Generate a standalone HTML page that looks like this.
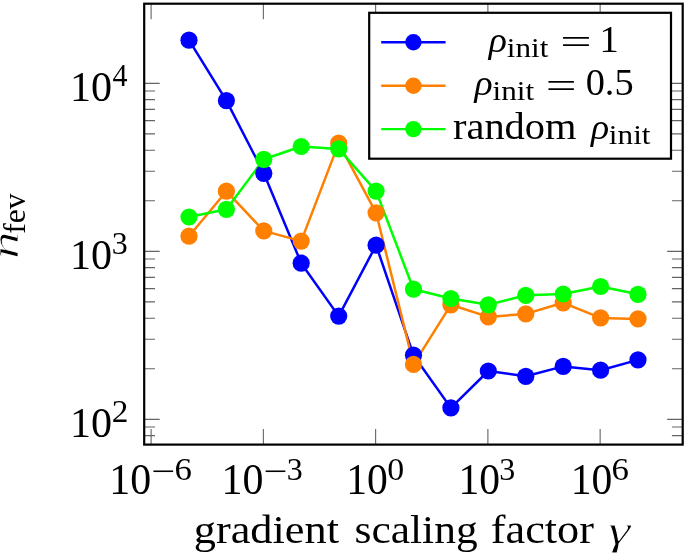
<!DOCTYPE html>
<html><head><meta charset="utf-8"><title>plot</title>
<style>html,body{margin:0;padding:0;background:#fff}svg{display:block}text{font-family:"Liberation Serif",serif;fill:#000}</style></head><body>
<svg width="685" height="553" viewBox="0 0 685 553">
<rect width="685" height="553" fill="#fff"/>
<g stroke="#646464" stroke-width="1.1" fill="none">
<path d="M144.2 435.63h10.8M682.7 435.63h-10.8"/>
<path d="M144.2 427.04h10.8M682.7 427.04h-10.8"/>
<path d="M144.2 368.78h10.8M682.7 368.78h-10.8"/>
<path d="M144.2 339.19h10.8M682.7 339.19h-10.8"/>
<path d="M144.2 318.20h10.8M682.7 318.20h-10.8"/>
<path d="M144.2 301.92h10.8M682.7 301.92h-10.8"/>
<path d="M144.2 288.62h10.8M682.7 288.62h-10.8"/>
<path d="M144.2 277.37h10.8M682.7 277.37h-10.8"/>
<path d="M144.2 267.63h10.8M682.7 267.63h-10.8"/>
<path d="M144.2 259.04h10.8M682.7 259.04h-10.8"/>
<path d="M144.2 200.78h10.8M682.7 200.78h-10.8"/>
<path d="M144.2 171.19h10.8M682.7 171.19h-10.8"/>
<path d="M144.2 150.20h10.8M682.7 150.20h-10.8"/>
<path d="M144.2 133.92h10.8M682.7 133.92h-10.8"/>
<path d="M144.2 120.62h10.8M682.7 120.62h-10.8"/>
<path d="M144.2 109.37h10.8M682.7 109.37h-10.8"/>
<path d="M144.2 99.63h10.8M682.7 99.63h-10.8"/>
<path d="M144.2 91.04h10.8M682.7 91.04h-10.8"/>
</g>
<g stroke="#646464" stroke-width="1.1" fill="none">
<path d="M144.2 419.35h15.5M682.7 419.35h-15.5"/>
<path d="M144.2 251.35h15.5M682.7 251.35h-15.5"/>
<path d="M144.2 83.35h15.5M682.7 83.35h-15.5"/>
<path d="M151.10 3.7v15.5M151.10 444.6v-15.5"/>
<path d="M263.36 3.7v15.5M263.36 444.6v-15.5"/>
<path d="M375.62 3.7v15.5M375.62 444.6v-15.5"/>
<path d="M487.88 3.7v15.5M487.88 444.6v-15.5"/>
<path d="M600.14 3.7v15.5M600.14 444.6v-15.5"/>
</g>
<rect x="144.2" y="3.7" width="538.5" height="440.9" fill="none" stroke="#000" stroke-width="2.2"/>
<polyline points="189.0,40.2 226.4,100.6 263.8,173.3 301.2,263.2 338.7,316.1 376.1,245.2 413.5,355.2 450.9,407.9 488.3,371.0 525.8,376.3 563.2,366.4 600.6,370.2 638.0,359.9" fill="none" stroke="#0000ff" stroke-width="2.5" stroke-linejoin="round"/>
<polyline points="189.0,236.2 226.4,191.2 263.8,230.9 301.2,241.1 338.7,143.1 376.1,212.8 413.5,364.4 450.9,304.8 488.3,316.9 525.8,313.9 563.2,302.8 600.6,317.9 638.0,318.9" fill="none" stroke="#ff8000" stroke-width="2.5" stroke-linejoin="round"/>
<polyline points="189.0,217.0 226.4,209.3 263.8,159.3 301.2,146.5 338.7,148.9 376.1,191.1 413.5,289.2 450.9,298.5 488.3,304.8 525.8,295.3 563.2,294.0 600.6,286.5 638.0,294.3" fill="none" stroke="#00ff00" stroke-width="2.5" stroke-linejoin="round"/>
<g fill="#0000ff" stroke="none">
<circle cx="189.0" cy="40.2" r="8.6"/>
<circle cx="226.4" cy="100.6" r="8.6"/>
<circle cx="263.8" cy="173.3" r="8.6"/>
<circle cx="301.2" cy="263.2" r="8.6"/>
<circle cx="338.7" cy="316.1" r="8.6"/>
<circle cx="376.1" cy="245.2" r="8.6"/>
<circle cx="413.5" cy="355.2" r="8.6"/>
<circle cx="450.9" cy="407.9" r="8.6"/>
<circle cx="488.3" cy="371.0" r="8.6"/>
<circle cx="525.8" cy="376.3" r="8.6"/>
<circle cx="563.2" cy="366.4" r="8.6"/>
<circle cx="600.6" cy="370.2" r="8.6"/>
<circle cx="638.0" cy="359.9" r="8.6"/>
</g>
<g fill="#ff8000" stroke="none">
<circle cx="189.0" cy="236.2" r="8.6"/>
<circle cx="226.4" cy="191.2" r="8.6"/>
<circle cx="263.8" cy="230.9" r="8.6"/>
<circle cx="301.2" cy="241.1" r="8.6"/>
<circle cx="338.7" cy="143.1" r="8.6"/>
<circle cx="376.1" cy="212.8" r="8.6"/>
<circle cx="413.5" cy="364.4" r="8.6"/>
<circle cx="450.9" cy="304.8" r="8.6"/>
<circle cx="488.3" cy="316.9" r="8.6"/>
<circle cx="525.8" cy="313.9" r="8.6"/>
<circle cx="563.2" cy="302.8" r="8.6"/>
<circle cx="600.6" cy="317.9" r="8.6"/>
<circle cx="638.0" cy="318.9" r="8.6"/>
</g>
<g fill="#00ff00" stroke="none">
<circle cx="189.0" cy="217.0" r="8.6"/>
<circle cx="226.4" cy="209.3" r="8.6"/>
<circle cx="263.8" cy="159.3" r="8.6"/>
<circle cx="301.2" cy="146.5" r="8.6"/>
<circle cx="338.7" cy="148.9" r="8.6"/>
<circle cx="376.1" cy="191.1" r="8.6"/>
<circle cx="413.5" cy="289.2" r="8.6"/>
<circle cx="450.9" cy="298.5" r="8.6"/>
<circle cx="488.3" cy="304.8" r="8.6"/>
<circle cx="525.8" cy="295.3" r="8.6"/>
<circle cx="563.2" cy="294.0" r="8.6"/>
<circle cx="600.6" cy="286.5" r="8.6"/>
<circle cx="638.0" cy="294.3" r="8.6"/>
</g>
<rect x="369.2" y="12.8" width="301.8" height="145.9" fill="#fff" stroke="#000" stroke-width="2.2"/>
<path d="M381.2 42.3H445.6" stroke="#0000ff" stroke-width="2.4"/><circle cx="413.4" cy="42.3" r="8.2" fill="#0000ff"/>
<path d="M381.2 85.7H445.6" stroke="#ff8000" stroke-width="2.4"/><circle cx="413.4" cy="85.7" r="8.2" fill="#ff8000"/>
<path d="M381.2 129.1H445.6" stroke="#00ff00" stroke-width="2.4"/><circle cx="413.4" cy="129.1" r="8.2" fill="#00ff00"/>
<text><tspan x="70.02" y="100.57" font-size="42.96" textLength="42.06" lengthAdjust="spacingAndGlyphs">10</tspan><tspan x="112.60" y="86.10" font-size="32.09" textLength="15.05" lengthAdjust="spacingAndGlyphs">4</tspan></text>
<text><tspan x="70.02" y="268.57" font-size="42.96" textLength="42.06" lengthAdjust="spacingAndGlyphs">10</tspan><tspan x="111.68" y="254.08" font-size="31.82" textLength="16.00" lengthAdjust="spacingAndGlyphs">3</tspan></text>
<text><tspan x="70.02" y="436.57" font-size="42.96" textLength="42.06" lengthAdjust="spacingAndGlyphs">10</tspan><tspan x="111.70" y="422.10" font-size="31.85" textLength="16.62" lengthAdjust="spacingAndGlyphs">2</tspan></text>
<text><tspan x="109.23" y="494.06" font-size="43.56" textLength="41.94" lengthAdjust="spacingAndGlyphs">10</tspan><tspan x="151.08" y="481.54" font-size="32.00" textLength="23.89" lengthAdjust="spacingAndGlyphs">−</tspan><tspan x="174.62" y="479.68" font-size="31.82" textLength="17.43" lengthAdjust="spacingAndGlyphs">6</tspan></text>
<text><tspan x="221.49" y="494.06" font-size="43.56" textLength="41.94" lengthAdjust="spacingAndGlyphs">10</tspan><tspan x="263.34" y="481.54" font-size="32.00" textLength="23.89" lengthAdjust="spacingAndGlyphs">−</tspan><tspan x="286.84" y="479.68" font-size="31.82" textLength="16.00" lengthAdjust="spacingAndGlyphs">3</tspan></text>
<text><tspan x="346.26" y="494.06" font-size="43.56" textLength="41.60" lengthAdjust="spacingAndGlyphs">10</tspan><tspan x="387.23" y="479.68" font-size="31.70" textLength="16.94" lengthAdjust="spacingAndGlyphs">0</tspan></text>
<text><tspan x="458.52" y="494.06" font-size="43.56" textLength="41.60" lengthAdjust="spacingAndGlyphs">10</tspan><tspan x="499.24" y="479.68" font-size="31.82" textLength="16.00" lengthAdjust="spacingAndGlyphs">3</tspan></text>
<text><tspan x="570.78" y="494.06" font-size="43.56" textLength="41.60" lengthAdjust="spacingAndGlyphs">10</tspan><tspan x="611.54" y="479.68" font-size="31.82" textLength="17.43" lengthAdjust="spacingAndGlyphs">6</tspan></text>
<text><tspan x="193.72" y="543.30" font-size="40.58" textLength="145.27" lengthAdjust="spacingAndGlyphs">gradient</tspan> <tspan x="354.56" y="543.30" font-size="40.58" textLength="123.11" lengthAdjust="spacingAndGlyphs">scaling</tspan> <tspan x="490.77" y="543.30" font-size="40.00" textLength="103.13" lengthAdjust="spacingAndGlyphs">factor</tspan> <tspan x="608.01" y="544.11" font-size="40.89" textLength="22.40" lengthAdjust="spacingAndGlyphs" font-style="italic" stroke="#fff" stroke-width="0.80">γ</tspan></text>
<text transform="rotate(-90)"><tspan x="-259.14" y="18.20" font-size="37.66" textLength="27.69" lengthAdjust="spacingAndGlyphs" font-style="italic" stroke="#fff" stroke-width="0.80">n</tspan><tspan x="-233.75" y="24.80" font-size="30.50" textLength="40.33" lengthAdjust="spacingAndGlyphs">fev</tspan></text>
<text><tspan x="488.85" y="51.61" font-size="36.19" textLength="18.19" lengthAdjust="spacingAndGlyphs" font-style="italic">ρ</tspan><tspan x="506.78" y="56.70" font-size="27.47" textLength="41.61" lengthAdjust="spacingAndGlyphs">init</tspan> <tspan x="560.22" y="54.35" font-size="36.40" textLength="31.41" lengthAdjust="spacingAndGlyphs">=</tspan> <tspan x="599.62" y="51.60" font-size="38.48" textLength="19.29" lengthAdjust="spacingAndGlyphs">1</tspan></text>
<text><tspan x="474.55" y="95.01" font-size="36.19" textLength="18.19" lengthAdjust="spacingAndGlyphs" font-style="italic">ρ</tspan><tspan x="492.48" y="100.10" font-size="27.47" textLength="41.61" lengthAdjust="spacingAndGlyphs">init</tspan> <tspan x="545.77" y="97.75" font-size="36.40" textLength="30.81" lengthAdjust="spacingAndGlyphs">=</tspan> <tspan x="585.66" y="94.92" font-size="38.97" textLength="47.97" lengthAdjust="spacingAndGlyphs">0.5</tspan></text>
<text><tspan x="452.99" y="138.80" font-size="37.12" textLength="123.50" lengthAdjust="spacingAndGlyphs">random</tspan> <tspan x="590.95" y="138.61" font-size="36.19" textLength="18.19" lengthAdjust="spacingAndGlyphs" font-style="italic">ρ</tspan><tspan x="608.88" y="143.70" font-size="27.47" textLength="41.61" lengthAdjust="spacingAndGlyphs">init</tspan></text>
</svg></body></html>
